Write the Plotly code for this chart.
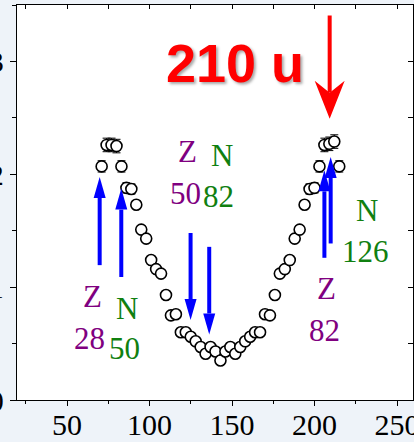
import plotly.graph_objects as go

# ---- data ----
mass = [71, 74, 77, 80, 83, 86, 89, 92, 95, 98, 101, 104, 107, 110, 113, 116, 119, 122,
        125, 128, 131, 134, 137, 140, 143, 146, 149, 152, 155, 158, 161, 164, 167, 170,
        173, 176, 179, 182, 185, 188, 191, 194, 197, 200, 203, 206, 209, 212, 215]
yield_pct = [2.07, 2.26, 2.26, 2.25, 2.07, 1.88, 1.87, 1.73, 1.51, 1.43, 1.24, 1.16, 1.12,
             0.93, 0.75, 0.76, 0.60, 0.60, 0.56, 0.52, 0.47, 0.41, 0.47, 0.43, 0.35, 0.43,
             0.47, 0.41, 0.47, 0.52, 0.56, 0.60, 0.60, 0.76, 0.75, 0.93, 1.12, 1.16, 1.24,
             1.43, 1.51, 1.73, 1.87, 1.88, 2.07, 2.26, 2.27, 2.29, 2.07]
yield_err = [0.05, 0.06, 0.06, 0.06, 0.05, 0.045, 0.045, 0.03, 0.03, 0.03, 0.03, 0.03, 0.03,
             0.03, 0.03, 0.03, 0.03, 0.03, 0.03, 0.03, 0.03, 0.03, 0.03, 0.03, 0.03, 0.03,
             0.03, 0.03, 0.03, 0.03, 0.03, 0.03, 0.03, 0.03, 0.03, 0.03, 0.03, 0.03, 0.03,
             0.03, 0.03, 0.03, 0.045, 0.045, 0.05, 0.06, 0.06, 0.06, 0.05]

x_ticks = [50, 100, 150, 200, 250]
y_ticks = [0, 1, 2, 3]

# shell-closure arrows (x, tail y, tip y)
arrow_x = [69.8, 82.9, 124.9, 136.2, 206.0, 209.8]
arrow_tail = [1.195, 1.09, 1.48, 1.357, 1.26, 1.387]
arrow_tip = [1.976, 1.873, 0.708, 0.581, 2.035, 2.153]

# labels (text, x, y, colour)
label_text = ["Z", "28", "N", "50", "Z", "50", "N", "82", "N", "126", "Z", "82"]
label_x = [65.2, 63.5, 86.4, 84.7, 123.3, 121.7, 143.9, 141.9, 231.8, 230.8, 207.2, 206.1]
label_y = [0.92, 0.546, 0.81, 0.457, 2.206, 1.829, 2.168, 1.80, 1.675, 1.312, 0.988, 0.62]
label_color = ["#800080", "#800080", "#108010", "#108010", "#800080", "#800080",
               "#108010", "#108010", "#108010", "#108010", "#800080", "#800080"]

# highlighted mass arrow
mark_x = 209.2
mark_tail = 3.407
mark_tip = 2.493
mark_label = "210 u"
mark_label_x = 151.7
mark_label_y = 2.99

# ---- layout constants ----
W, H = 414, 442
ML, MR, MT, MB = 17, 1, 5, 42
XR = [19.7, 259.7]
YR = [0, 3.5]
PXX = (W - ML - MR) / (XR[1] - XR[0])
PXY = (H - MT - MB) / (YR[1] - YR[0])

fig = go.Figure()
fig.add_trace(go.Scatter(
    x=mass, y=yield_pct, mode="markers",
    error_y=dict(type="data", array=yield_err, visible=True, color="black",
                 thickness=1, width=4),
    marker=dict(symbol="circle", size=11, color="white",
                line=dict(color="black", width=1.6)),
    hoverinfo="skip", showlegend=False))
# anchor trace for mirror (top/right) axes
fig.add_trace(go.Scatter(x=[mass[0]], y=[yield_pct[0]], xaxis="x2", yaxis="y2",
                         mode="markers", marker=dict(opacity=0), hoverinfo="skip",
                         showlegend=False))

shapes = []
blue = "#0000ff"
head_w, head_l = 12, 21
for x, y0, y1 in zip(arrow_x, arrow_tail, arrow_tip):
    half = head_w / 2 / PXX
    L = head_l / PXY
    s = 1 if y1 > y0 else -1
    base = y1 - s * L
    shapes.append(dict(type="line", xref="x", yref="y", x0=x, x1=x, y0=y0, y1=base,
                       line=dict(color=blue, width=4)))
    shapes.append(dict(type="path", xref="x", yref="y",
                       path=f"M {x},{y1} L {x-half},{base} L {x+half},{base} Z",
                       fillcolor=blue, line=dict(color=blue, width=0)))

# red barbed arrow
red = "#ff0000"
rw, rl, rn = 30, 38, 12
half = rw / 2 / PXX
L = rl / PXY
N = rn / PXY
back = mark_tip + L
notch = back - N
shapes.append(dict(type="line", xref="x", yref="y", x0=mark_x, x1=mark_x,
                   y0=mark_tail, y1=notch, line=dict(color=red, width=4)))
shapes.append(dict(type="path", xref="x", yref="y",
                   path=f"M {mark_x},{mark_tip} L {mark_x-half},{back} L {mark_x},{notch} "
                        f"L {mark_x+half},{back} Z",
                   fillcolor=red, line=dict(color=red, width=0)))

annotations = []
for t, x, y, c in zip(label_text, label_x, label_y, label_color):
    annotations.append(dict(x=x, y=y, xref="x", yref="y", text=t, showarrow=False,
                            font=dict(family="Liberation Serif", size=31, color=c),
                            xanchor="center", yanchor="middle"))
annotations.append(dict(x=mark_label_x, y=mark_label_y, xref="x", yref="y",
                        text=f"<b>{mark_label}</b>", showarrow=False,
                        font=dict(family="Liberation Sans", size=54, color=red,
                                  shadow="2px 2px 3px rgba(0,0,0,0.35)"),
                        xanchor="center", yanchor="middle"))

tickfont = dict(family="Liberation Serif", size=30, color="black")
fig.update_layout(
    width=W, height=H,
    margin=dict(l=ML, r=MR, t=MT, b=MB, autoexpand=False),
    paper_bgcolor="#eef3f9", plot_bgcolor="white",
    showlegend=False,
    shapes=shapes, annotations=annotations,
    xaxis=dict(range=XR, tickvals=x_ticks, ticks="outside", ticklen=5, tickwidth=1.2,
               tickcolor="black", showline=True, linecolor="black", linewidth=1.3,
               showgrid=False, zeroline=False, tickfont=tickfont, automargin=False,
               ticklabeloverflow="allow", ticklabelstandoff=-7,
               minor=dict(dtick=25, ticks="outside", ticklen=3, tickcolor="black",
                          tickwidth=1.1, showgrid=False)),
    yaxis=dict(range=YR, tickvals=y_ticks, ticks="outside", ticklen=6, tickwidth=1.2,
               tickcolor="black", showline=True, linecolor="black", linewidth=1.3,
               showgrid=False, zeroline=False, tickfont=tickfont, automargin=False,
               ticklabeloverflow="allow",
               minor=dict(dtick=0.5, ticks="outside", ticklen=4, tickcolor="black",
                          tickwidth=1.1, showgrid=False)),
    xaxis2=dict(range=XR, overlaying="x", side="top", anchor="y", dtick=25, tick0=0,
                ticks="inside", ticklen=4, tickcolor="black", tickwidth=1.1,
                showticklabels=False, showline=True, linecolor="black", linewidth=1.3,
                showgrid=False, zeroline=False),
    yaxis2=dict(range=YR, overlaying="y", side="right", anchor="x", dtick=0.5, tick0=0,
                ticks="inside", ticklen=5, tickcolor="black", tickwidth=1.1,
                showticklabels=False, showline=True, linecolor="black", linewidth=1.3,
                showgrid=False, zeroline=False),
)

fig.write_html("out.html", config={"displayModeBar": False},
               post_script="document.body.style.margin='0';"
                           "document.body.style.overflow='hidden';")
